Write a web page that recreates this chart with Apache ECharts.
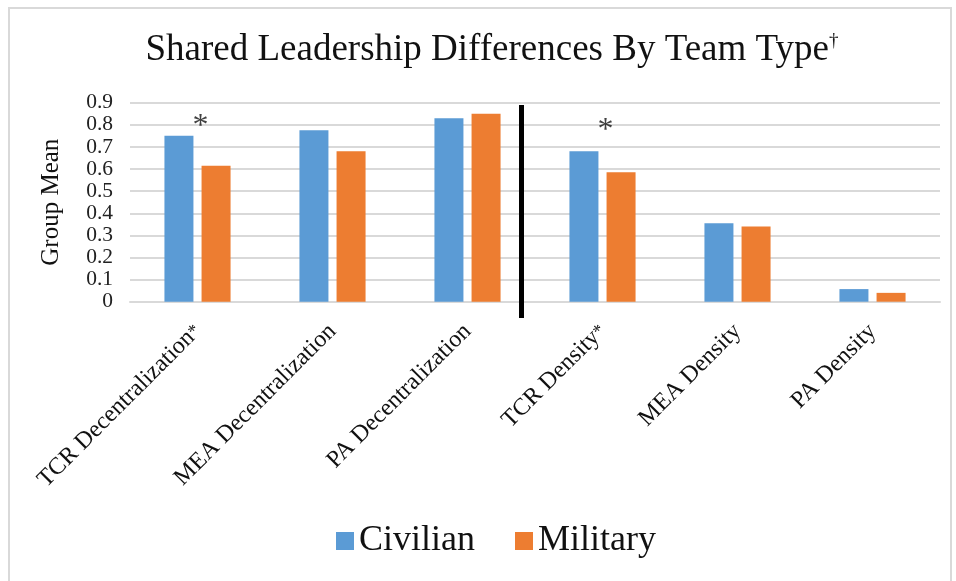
<!DOCTYPE html>
<html>
<head>
<meta charset="utf-8">
<script src="https://cdn.jsdelivr.net/npm/echarts@6/dist/echarts.min.js"></script>
<style>
    html, body { margin: 0; padding: 0; background: #fff; }
    #frame { position: absolute; left: 8px; top: 7px; width: 944px; height: 590px; border: 2px solid #d9d9d9; box-sizing: border-box; }
    #chartDiv { position: absolute; left: 0; top: 0; width: 956px; height: 581px; }
</style>
</head>
<body>
<div id="frame"></div>
<div id="chartDiv"></div>
<script>
    // values
    var categories = ['TCR Decentralization*', 'MEA Decentralization', 'PA Decentralization',
        'TCR Density*', 'MEA Density', 'PA Density'];
    var civilian = [0.75, 0.775, 0.83, 0.68, 0.355, 0.057];
    var military = [0.615, 0.68, 0.85, 0.585, 0.34, 0.04];
    var yTicks = [0, 0.1, 0.2, 0.3, 0.4, 0.5, 0.6, 0.7, 0.8, 0.9];
    // significance marks: [category, value]
    var starMarks = [['TCR Decentralization*', 0.82], ['TCR Density*', 0.80]];

    var serif = '"Liberation Serif", "Times New Roman", serif';
    var chart = echarts.init(document.getElementById('chartDiv'));

    var option = {
        animation: false,
        title: {
            text: 'Shared Leadership Differences By Team Type{sup|†}',
            left: 487,
            textAlign: 'center',
            top: 27,
            textStyle: {
                fontFamily: serif, fontSize: 37, fontWeight: 'normal', color: '#111',
                rich: { sup: { fontFamily: serif, fontSize: 19, verticalAlign: 'top', color: '#111' } }
            }
        },
        legend: {
            left: 331,
            top: 518,
            itemWidth: 18,
            itemHeight: 18,
            itemGap: 40,
            icon: 'rect',
            textStyle: { fontFamily: serif, fontSize: 36, color: '#111' },
            data: ['Civilian', 'Military']
        },
        grid: { left: 130, right: 16, top: 102.7, bottom: 279.3 },
        xAxis: {
            type: 'category',
            data: categories,
            axisTick: { show: false },
            axisLine: { lineStyle: { color: '#d9d9d9', width: 2 } },
            axisLabel: {
                rotate: 45,
                interval: 0,
                margin: 26,
                fontFamily: serif,
                fontSize: 24,
                color: '#111',
                formatter: function (v) {
                    return v.replace('*', '{s|*}');
                },
                rich: { s: { fontFamily: serif, fontSize: 18, color: '#111' } }
            }
        },
        yAxis: {
            type: 'value',
            min: 0,
            max: 0.9,
            interval: 0.1,
            name: 'Group Mean',
            nameLocation: 'middle',
            nameGap: 66,
            nameTextStyle: { fontFamily: serif, fontSize: 25, color: '#111' },
            axisLine: { show: false },
            axisTick: { show: false },
            splitLine: { lineStyle: { color: '#d9d9d9', width: 2 } },
            axisLabel: {
                margin: 17,
                fontFamily: serif,
                fontSize: 21.5,
                color: '#222',
                formatter: function (v) {
                    var t = yTicks.find(function (k) { return Math.abs(k - v) < 1e-9; });
                    return t === undefined ? '' : String(t);
                }
            }
        },
        series: [
            {
                name: 'Civilian',
                type: 'bar',
                data: civilian,
                barWidth: 29,
                barGap: '28%',
                itemStyle: { color: '#5B9BD5' }
            },
            {
                name: 'Military',
                type: 'bar',
                data: military,
                barWidth: 29,
                itemStyle: { color: '#ED7D31' }
            },
            {
                name: 'sig',
                type: 'scatter',
                data: starMarks,
                symbolSize: 0,
                silent: true,
                label: {
                    show: true,
                    position: 'inside',
                    formatter: '*',
                    fontFamily: serif,
                    fontSize: 32,
                    color: '#111',
                    offset: [3, 6]
                }
            }
        ]
    };
    chart.setOption(option);

    // divider between decentralization and density groups
    var p2 = chart.convertToPixel({ xAxisIndex: 0 }, categories[2]);
    var p3 = chart.convertToPixel({ xAxisIndex: 0 }, categories[3]);
    var lineX = p2 + (p3 - p2) * 0.4;
    var yTop = chart.convertToPixel({ yAxisIndex: 0 }, 0.89);
    var yBot = chart.convertToPixel({ yAxisIndex: 0 }, -0.074);
    chart.setOption({
        graphic: [{
            type: 'line',
            shape: { x1: lineX, y1: yTop, x2: lineX, y2: yBot },
            style: { stroke: '#000', lineWidth: 5 },
            z: 100
        }]
    });
</script>
</body>
</html>
